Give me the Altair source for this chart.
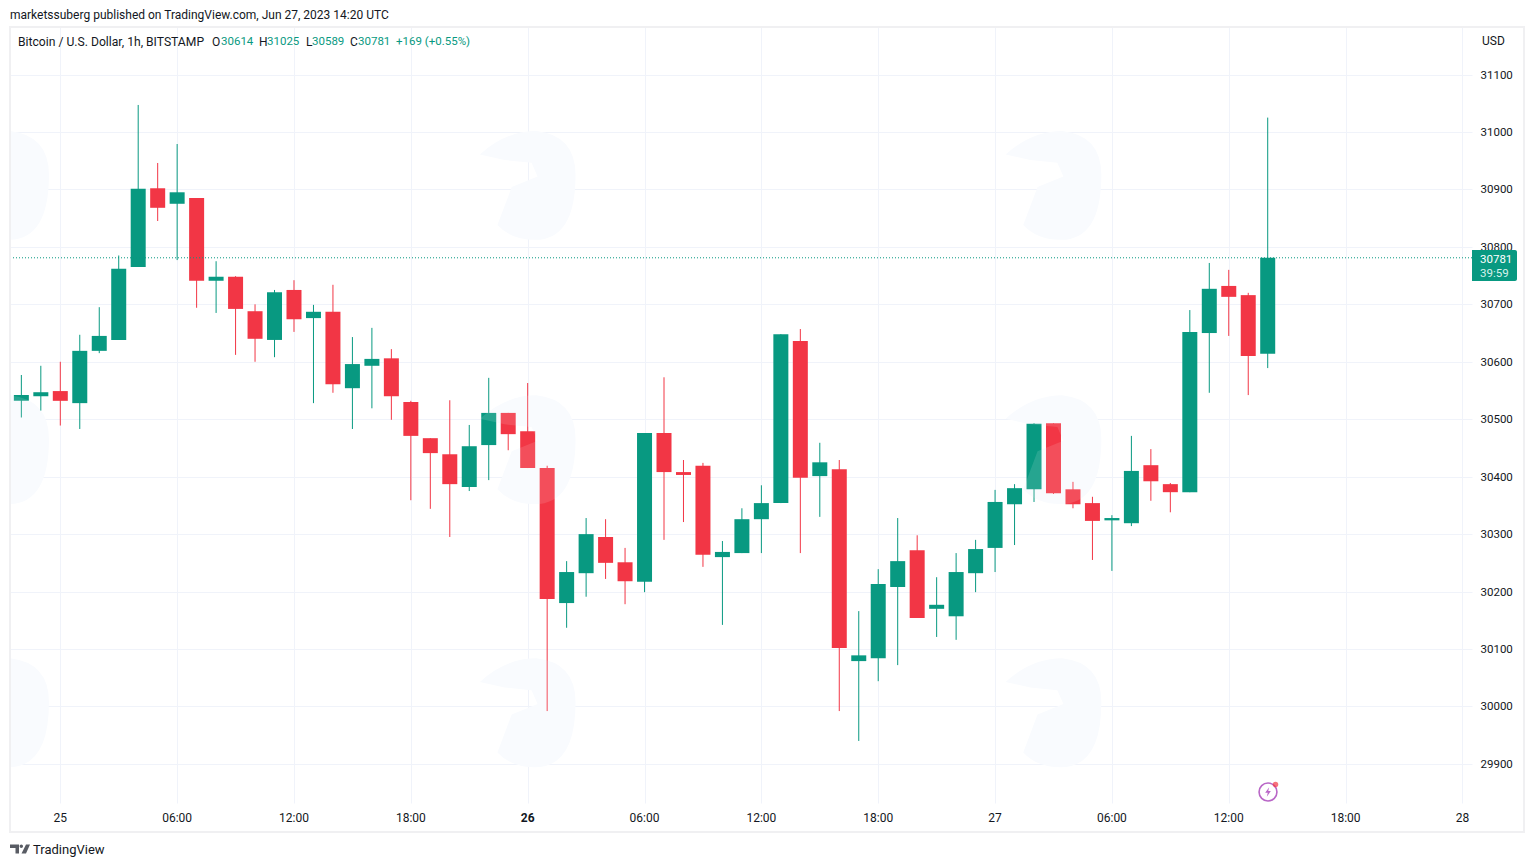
import altair as alt
import pandas as pd

FONT = "Roboto"
GREEN = "#089981"
RED = "#f23645"
INK = "#131722"
GRID = "#f0f3fa"

# hours counted from Jun 25 00:00 UTC
first_hour = -2
opens = [30532,30540,30549,30528,30619,30638,30765,30902,30875,30885,30741,30748,30688,30638,30725,30676,30687,30554,30593,30606,
         30530,30467,30439,30382,30455,30511,30479,30415,30180,30232,30295,30251,30217,30476,30408,30419,30260,30267,30326,30354,
         30636,30401,30413,30079,30084,30208,30272,30170,30157,30232,30276,30352,30378,30493,30378,30354,30324,30319,30420,30387,
         30373,30650,30732,30716,30614]
highs = [30577,30593,30600,30647,30695,30785,31047,30946,30979,30885,30775,30749,30700,30725,30742,30699,30734,30643,30659,30622,
         30532,30467,30533,30490,30572,30511,30563,30419,30253,30328,30326,30276,30476,30573,30429,30424,30288,30345,30385,30648,
         30657,30459,30429,30166,30239,30328,30298,30225,30267,30290,30377,30387,30493,30493,30391,30365,30333,30471,30448,30389,
         30690,30772,30760,30720,31025]
lows = [30503,30515,30489,30483,30615,30638,30765,30845,30777,30694,30685,30612,30600,30608,30652,30528,30546,30483,30519,30499,
        30359,30344,30295,30375,30394,30446,30415,29992,30137,30191,30222,30178,30199,30290,30321,30243,30142,30267,30267,30354,
        30267,30330,29992,29940,30044,30072,30154,30121,30116,30199,30234,30281,30356,30370,30345,30255,30236,30314,30358,30338,
        30373,30546,30645,30542,30589]
closes = [30542,30547,30532,30619,30645,30762,30901,30868,30895,30741,30748,30692,30640,30721,30674,30687,30561,30596,30605,30540,
          30471,30441,30387,30453,30511,30474,30415,30187,30234,30300,30250,30218,30476,30408,30403,30264,30269,30326,30354,30648,
          30398,30425,30102,30089,30213,30253,30154,30177,30234,30274,30356,30380,30492,30371,30352,30323,30328,30410,30392,30373,
          30652,30727,30713,30610,30781]

price_ticks = [29900,30000,30100,30200,30300,30400,30500,30600,30700,30800,30900,31000,31100]
time_ticks = [0,6,12,18,24,30,36,42,48,54,60,66,72]
time_labels = ["25","06:00","12:00","18:00","26","06:00","12:00","18:00","27","06:00","12:00","18:00","28"]
last_price = 30781
wm_hours = [-3.04, 24, 51]
wm_prices = [30908, 30448, 29990]

W, H = 1462, 776

df = pd.DataFrame({"hour": [first_hour + i for i in range(len(opens))],
                   "open": opens, "high": highs, "low": lows, "close": closes})
df["dir"] = ["up" if c >= o else "down" for o, c in zip(opens, closes)]

x_scale = alt.Scale(domain=[-2.583, 72.49], nice=False, zero=False, padding=0)
y_scale = alt.Scale(domain=[29832, 31182.7], nice=False, zero=False, padding=0)
color = alt.Color("dir:N", scale=alt.Scale(domain=["up", "down"], range=[GREEN, RED]), legend=None)

label_map = "{" + ",".join(f"'{h}':'{l}'" for h, l in zip(time_ticks, time_labels)) + "}"

x_axis = alt.Axis(values=time_ticks, labelExpr=f"{label_map}[''+datum.value]", grid=True, gridColor=GRID,
                  gridWidth=1, ticks=False, domain=False, labelFont=FONT, labelFontSize=12, labelColor=INK,
                  labelPadding=9, labelOverlap=False, labelFlush=False, labelOffset=-0.5,
                  labelFontWeight={"condition": {"test": "datum.value == 24", "value": "bold"}, "value": "normal"})
y_axis = alt.Axis(orient="right", values=price_ticks, format="d", grid=True, gridColor=GRID, gridWidth=1,
                  ticks=False, domain=False, labelFont=FONT, labelFontSize=11.5, labelColor=INK,
                  labelPadding=8, labelOverlap=False, labelFlush=False, labelOffset=0.5)


def X(field):
    return alt.X(field, scale=x_scale, axis=x_axis, title=None)


def Y(field):
    return alt.Y(field, scale=y_scale, axis=y_axis, title=None)


WM_PATH = ("M-0.87,-0.55 Q-0.4,-0.98 0.16,-0.98 Q0.87,-0.9 0.87,-0.18 Q0.87,1 0.13,1 Q-0.3,1 -0.55,0.73 "
           "L-0.29,0.04 L0.18,-0.15 L0.07,-0.4 L-0.42,-0.45 Z")
wm_df = pd.DataFrame([{"h": h, "p": p} for h in wm_hours for p in wm_prices])


def watermark(fill, opacity):
    return alt.Chart(wm_df).mark_point(shape=WM_PATH, size=12100, filled=True, fill=fill, opacity=opacity,
                                       strokeWidth=0, clip=True).encode(x=X("h:Q"), y=Y("p:Q"))


wicks = alt.Chart(df).mark_rule(strokeWidth=1).encode(x=X("hour:Q"), y=Y("low:Q"), y2="high:Q", color=color)
bodies = alt.Chart(df).mark_bar(size=15).encode(x=X("hour:Q"), y=Y("open:Q"), y2="close:Q", color=color)
price_line = alt.Chart(pd.DataFrame({"p": [last_price]})).mark_rule(
    color=GREEN, strokeWidth=1, strokeDash=[1, 2]).encode(y=Y("p:Q"))


def txt(s, sx, sy, color=INK, size=12, align="left", font=FONT):
    """Text placed by screen position (page pixels)."""
    return alt.Chart(pd.DataFrame({"t": [s]})).mark_text(
        font=font, fontSize=size, color=color, align=align, baseline="middle").encode(
        text="t:N", x=alt.value(sx - 10), y=alt.value(sy - 27))


def box(x0, x1, y0, y1, **kw):
    return alt.Chart(pd.DataFrame({"a": [0]})).mark_rect(**kw).encode(
        x=alt.value(x0 - 10), x2=alt.value(x1 - 10), y=alt.value(y0 - 27), y2=alt.value(y1 - 27))


def sym(shape, sx, sy, size, **kw):
    return alt.Chart(pd.DataFrame({"a": [0]})).mark_point(shape=shape, size=size, **kw).encode(
        x=alt.value(sx - 10), y=alt.value(sy - 27))


LOGO = ("M-1,-0.45 H-0.1 V0.45 H-0.45 V-0.1 H-1 Z "
        "M0.3,-0.27 A0.17,0.17 0 1 1 -0.04,-0.27 A0.17,0.17 0 1 1 0.3,-0.27 Z "
        "M0.6,-0.45 H1 L0.6,0.45 H0.15 Z")
BOLT = "M0.25,-1 L-0.6,0.15 L-0.05,0.15 L-0.25,1 L0.6,-0.2 L0.05,-0.2 Z"

layers = [
    watermark("#f9fbfe", 1),
    wicks,
    bodies,
    watermark("#ffffff", 0.12),
    price_line,
    box(10, 1524, 27, 832, fill="transparent", stroke="#f0f0f2", strokeWidth=2),
    box(1472, 1517, 250, 281, fill=GREEN, cornerRadiusTopRight=2, cornerRadiusBottomRight=2),
    txt("30781", 1480, 260, "#ffffff", 11.5),
    txt("39:59", 1480, 274, "#d8f2ec", 11.5),
    txt("USD", 1482, 41),
    txt("marketssuberg published on TradingView.com, Jun 27, 2023 14:20 UTC", 10, 15),
    txt("Bitcoin / U.S. Dollar, 1h, BITSTAMP", 18, 42, size=12.15),
    txt("O", 212, 42), txt("30614", 221, 42, GREEN, 11.5),
    txt("H", 259, 42), txt("31025", 267, 42, GREEN, 11.5),
    txt("L", 306, 42), txt("30589", 312, 42, GREEN, 11.5),
    txt("C", 350, 42), txt("30781", 358, 42, GREEN, 11.5),
    txt("+169 (+0.55%)", 396, 42, GREEN, 11.5),
    txt("TradingView", 33, 850, size=13),
    sym(LOGO, 20, 849, 400, filled=True, fill=INK, strokeWidth=0),
    sym("circle", 1268, 792, 320, filled=False, stroke="#9c27b0", strokeWidth=1.6, fill="transparent"),
    sym(BOLT, 1268, 792, 90, filled=True, fill="#9c27b0", strokeWidth=0),
    sym("circle", 1275.5, 784.5, 30, filled=True, fill=RED, strokeWidth=0),
]

chart = alt.layer(*layers).properties(
    width=W, height=H,
    padding={"left": 2, "top": 19, "right": 54, "bottom": 54},
    autosize=alt.AutoSizeParams(type="none"),
    background="#ffffff",
).configure_view(stroke=None)

chart.save("out.html", embed_options={"renderer": "svg", "actions": False})
